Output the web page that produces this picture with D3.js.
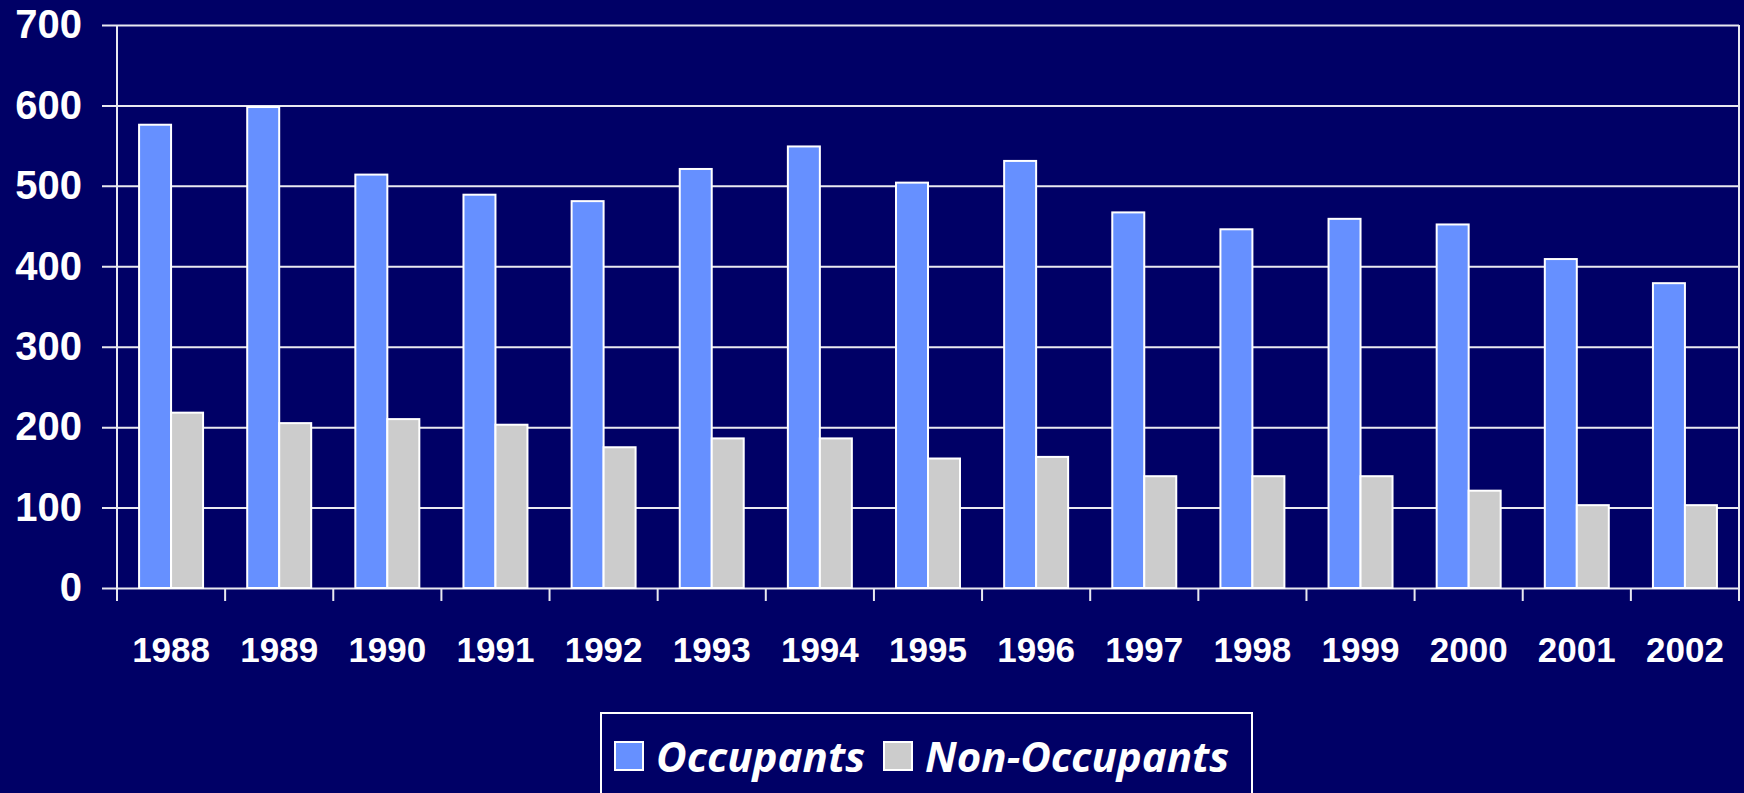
<!DOCTYPE html>
<html>
<head>
<meta charset="utf-8">
<script src="https://cdn.jsdelivr.net/npm/d3@7"></script>
<style>
  body { margin: 0; background: #000066; }
  svg { display: block; font-family: "Comic Sans MS", "Open Sans", sans-serif; font-weight: bold; }
  .axis text { fill: #fff; }
</style>
</head>
<body>
<svg width="1744" height="793"></svg>
<script>
const years = ["1988", "1989", "1990", "1991", "1992", "1993", "1994", "1995",
               "1996", "1997", "1998", "1999", "2000", "2001", "2002"];
const occupants = [576, 598, 514, 489, 481, 521, 549, 504, 531, 467, 446, 459, 452, 409, 379];
const nonOccupants = [218, 205, 210, 203, 175, 186, 186, 161, 163, 139, 139, 139, 121, 103, 103];
const seriesNames = ["Occupants", "Non-Occupants"];
const seriesColors = ["#6690ff", "#cccccc"];
const yTicks = [0, 100, 200, 300, 400, 500, 600, 700];

let data = years.map(function(y, i) {
  return { year: y, values: [occupants[i], nonOccupants[i]] };
});

let svg = d3.select("svg"),
    margin = {top: 25, right: 5, bottom: 205, left: 117},
    width = +svg.attr("width") - margin.left - margin.right,
    height = +svg.attr("height") - margin.top - margin.bottom;

let x0 = d3.scaleBand().domain(years).range([0, width]).padding(0),
    x1 = d3.scaleBand().domain(seriesNames).range([0, x0.bandwidth()]).paddingInner(0).paddingOuter(0.69),
    y = d3.scaleLinear().domain([0, 700]).range([height, 0]);

let g = svg.append("g")
    .attr("transform", "translate(" + margin.left + "," + margin.top + ")");

// y axis: ticks + gridlines
let yAxis = g.append("g")
    .attr("class", "axis axis--y")
    .call(d3.axisLeft(y).tickValues(yTicks).tickSize(15).tickPadding(20));
yAxis.select(".domain").remove();
yAxis.selectAll(".tick line")
    .attr("x2", -15).attr("x1", width)
    .attr("stroke", "#e8e8f0").attr("stroke-width", 2);
yAxis.selectAll("text")
    .style("font-size", "40px");

// left and right vertical lines
g.append("line")
    .attr("x1", 0).attr("x2", 0).attr("y1", 0).attr("y2", height + 13)
    .attr("stroke", "#e8e8f0").attr("stroke-width", 2);
g.append("line")
    .attr("x1", width).attr("x2", width).attr("y1", 0).attr("y2", height + 13)
    .attr("stroke", "#e8e8f0").attr("stroke-width", 2);

// x axis: labels centred in bands, ticks at band edges
let xAxis = g.append("g")
    .attr("class", "axis axis--x")
    .attr("transform", "translate(0," + height + ")")
    .call(d3.axisBottom(x0).tickSize(0).tickPadding(0));
xAxis.select(".domain").remove();
xAxis.selectAll("text")
    .attr("y", 74).attr("dy", 0)
    .style("font-size", "35px");

g.append("g")
    .selectAll("line")
    .data(years.slice(1))
    .enter().append("line")
      .attr("x1", function(d) { return x0(d); })
      .attr("x2", function(d) { return x0(d); })
      .attr("y1", height).attr("y2", height + 13)
      .attr("stroke", "#e8e8f0").attr("stroke-width", 2);

// bars
g.selectAll(".group")
  .data(data)
  .enter().append("g")
    .attr("class", "group")
    .attr("transform", function(d) { return "translate(" + x0(d.year) + ",0)"; })
  .selectAll("rect")
  .data(function(d) { return d.values.map(function(v, i) { return {key: seriesNames[i], value: v, i: i}; }); })
  .enter().append("rect")
    .attr("x", function(d) { return x1(d.key); })
    .attr("y", function(d) { return y(d.value); })
    .attr("width", x1.bandwidth())
    .attr("height", function(d) { return height - y(d.value); })
    .attr("fill", function(d) { return seriesColors[d.i]; })
    .attr("stroke", "#fff")
    .attr("stroke-width", 2);

// legend
let legend = svg.append("g").attr("class", "legend");
legend.append("rect")
    .attr("x", 601).attr("y", 713)
    .attr("width", 651).attr("height", 120)
    .attr("fill", "none")
    .attr("stroke", "#fff").attr("stroke-width", 2);

let legendItems = [
  {name: seriesNames[0], color: seriesColors[0], sx: 615, tx: 656},
  {name: seriesNames[1], color: seriesColors[1], sx: 884, tx: 925}
];
legendItems.forEach(function(it) {
  legend.append("rect")
      .attr("x", it.sx).attr("y", 742)
      .attr("width", 28).attr("height", 28)
      .attr("fill", it.color)
      .attr("stroke", "#fff").attr("stroke-width", 2);
  legend.append("text")
      .attr("x", it.tx).attr("y", 772)
      .attr("fill", "#fff")
      .style("font-size", "42px")
      .style("font-style", "italic")
      .text(it.name);
});
</script>
</body>
</html>
